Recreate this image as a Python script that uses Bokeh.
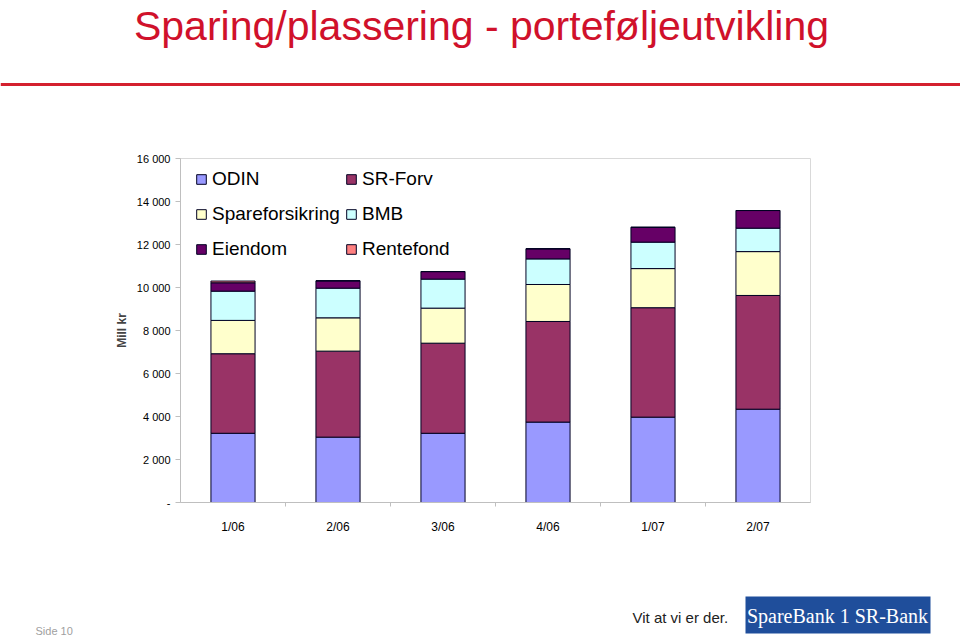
from bokeh.plotting import figure
from bokeh.layouts import column
from bokeh.models import (Range1d, FixedTicker, CustomJSTickFormatter, Legend, LegendItem,
                          ColumnDataSource)
from bokeh.core.properties import value
from bokeh.embed import file_html
from bokeh.resources import INLINE

# ---------------- data ----------------
periods = ["1/06", "2/06", "3/06", "4/06", "1/07", "2/07"]
series = ["ODIN", "SR-Forv", "Spareforsikring", "BMB", "Eiendom", "Rentefond"]
odin = [3220, 3040, 3220, 3740, 3970, 4340]
sr_forv = [3700, 4000, 4190, 4680, 5090, 5290]
spareforsikring = [1550, 1550, 1630, 1720, 1820, 2040]
bmb = [1360, 1380, 1350, 1190, 1230, 1090]
eiendom = [390, 340, 350, 470, 690, 820]
rentefond = [80, 0, 0, 0, 0, 0]
y_ticks = [0, 2000, 4000, 6000, 8000, 10000, 12000, 14000, 16000]
title_text = "Sparing/plassering - porteføljeutvikling"
y_label = "Mill kr"
footer_page = "Side 10"
slogan = "Vit at vi er der."
logo_text = "SpareBank 1 SR-Bank"

colors = ["#9999ff", "#993366", "#ffffcc", "#ccffff", "#660066", "#ff8080"]
RED = "#d0112b"
FONT = "Liberation Sans"

W = 960
H_TOP, H_MAIN, H_FOOT = 100, 470, 66

# ---------------- header ----------------
top = figure(width=W, height=H_TOP, x_range=Range1d(0, W), y_range=Range1d(H_TOP, 0),
             output_backend="svg", toolbar_location=None, min_border=0, frame_align=False)
top.axis.visible = False
top.grid.visible = False
top.outline_line_color = None
top.text(x=[481], y=[2], text=[title_text], text_align="center", text_baseline="top",
         text_font=value(FONT), text_font_size="41px", text_color=RED)
top.segment(x0=[0], y0=[84], x1=[W], y1=[84], line_color="#d4202e", line_width=3)

# ---------------- chart ----------------
data = dict(x=[i + 0.5 for i in range(len(periods))],
            ODIN=odin, **{"SR-Forv": sr_forv}, Spareforsikring=spareforsikring,
            BMB=bmb, Eiendom=eiendom, Rentefond=rentefond)
src = ColumnDataSource(data)

p = figure(width=W, height=H_MAIN, x_range=Range1d(0, len(periods)), y_range=Range1d(0, 16000),
           output_backend="svg", toolbar_location=None, frame_align=False,
           min_border_left=180, min_border_right=150, min_border_top=58, min_border_bottom=68)
p.grid.visible = False
p.outline_line_color = "#d9d9d9"
p.background_fill_color = "white"
p.border_fill_color = "white"

renderers = p.vbar_stack(series, x="x", width=0.42, source=src, fill_color=colors,
                         line_color="#000022", line_width=1)

# y axis
ya = p.yaxis[0]
ya.ticker = FixedTicker(ticks=y_ticks)
ya.formatter = CustomJSTickFormatter(code="""
    if (tick == 0) return '-';
    return Math.round(tick).toString().replace(/\\B(?=(\\d{3})+(?!\\d))/g, ' ');
""")
ya.axis_line_color = "#bfbfbf"
ya.major_tick_line_color = "#bfbfbf"
ya.major_tick_out = 5
ya.major_tick_in = 0
ya.minor_tick_line_color = None
ya.major_label_standoff = 5
ya.major_label_text_font = FONT
ya.major_label_text_font_size = "11px"
ya.major_label_text_color = "black"
ya.axis_label = y_label
ya.axis_label_text_font = FONT
ya.axis_label_text_font_size = "12px"
ya.axis_label_text_font_style = "bold"
ya.axis_label_standoff = 5

# x axis
xa = p.xaxis[0]
xa.ticker = FixedTicker(ticks=[i + 0.5 for i in range(len(periods))],
                        minor_ticks=list(range(1, len(periods))))
xa.formatter = CustomJSTickFormatter(args=dict(labels=periods),
                                     code="const i = Math.floor(tick); return labels[i] || '';")
xa.axis_line_color = "#bfbfbf"
xa.major_tick_line_color = None
xa.major_tick_out = 0
xa.major_tick_in = 0
xa.minor_tick_line_color = "#bfbfbf"
xa.minor_tick_out = 4
xa.minor_tick_in = 0
xa.major_label_standoff = 13
xa.major_label_text_font = FONT
xa.major_label_text_font_size = "12px"
xa.major_label_text_color = "black"

# legends (two columns)
def make_legend(items, x, label_width):
    return Legend(items=items, location=(x, 241), orientation="vertical",
                  label_text_font=FONT, label_text_font_size="19px",
                  label_text_color="black", glyph_width=12, glyph_height=12,
                  label_height=24, label_width=label_width, label_standoff=5,
                  spacing=11, padding=4, margin=0,
                  border_line_color=None, background_fill_color="white",
                  background_fill_alpha=1.0)

left_items = [LegendItem(label=series[i], renderers=[renderers[i]]) for i in (0, 2, 4)]
right_items = [LegendItem(label=series[i], renderers=[renderers[i]]) for i in (1, 3, 5)]
p.add_layout(make_legend(left_items, 15, 124), "center")
p.add_layout(make_legend(right_items, 165, 118), "center")

# ---------------- footer ----------------
foot = figure(width=W, height=H_FOOT, x_range=Range1d(0, W), y_range=Range1d(H_FOOT, 0),
              output_backend="svg", toolbar_location=None, min_border=0, frame_align=False)
foot.axis.visible = False
foot.grid.visible = False
foot.outline_line_color = None
foot.text(x=[35], y=[60], text=[footer_page], text_align="left", text_baseline="middle",
          text_font=value(FONT), text_font_size="11px", text_color="#a0a0a0")
foot.text(x=[632], y=[47], text=[slogan], text_align="left", text_baseline="middle",
          text_font=value(FONT), text_font_size="15px", text_color="#222222")
foot.quad(left=[745], right=[930], top=[26], bottom=[63], fill_color="#1f4e9b", line_color=None)
foot.text(x=[837], y=[45], text=[logo_text], text_align="center", text_baseline="middle",
          text_font=value("Liberation Serif"), text_font_size="20px", text_color="white")

layout = column(top, p, foot, spacing=0)

open("out.html", "w").write(file_html(layout, INLINE))
